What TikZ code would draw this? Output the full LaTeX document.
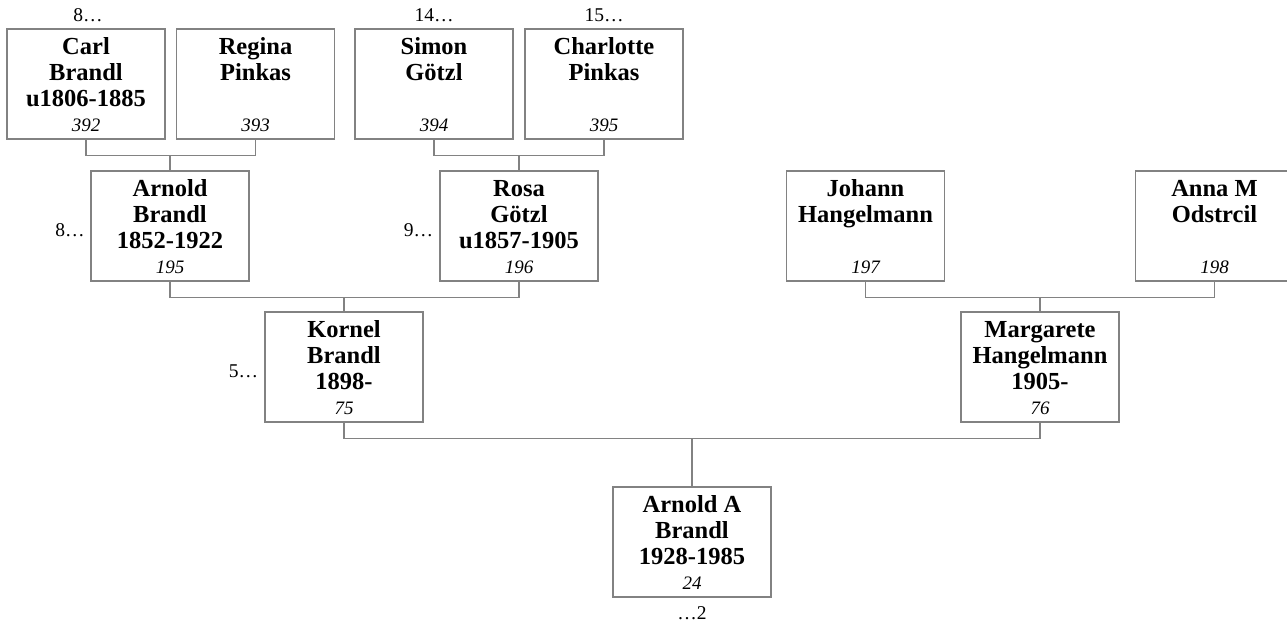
\documentclass[tikz,border=0pt]{standalone}
\usepackage{fontspec}
\setmainfont{Liberation Serif}
\usepackage{xcolor}
\usepackage{tikz}
\usetikzlibrary{positioning}
\definecolor{linegray}{RGB}{130,130,130}
\newcommand{\namefont}{\fontsize{24.5}{26}\selectfont\bfseries}
\newcommand{\numfont}{\fontsize{19}{22}\selectfont\mdseries\itshape}
\newcommand{\famcard}[2]{%
  \begin{minipage}[c][110pt][t]{158pt}\centering
  \namefont\rule{0pt}{25.5pt}#1\par
  \vfill
  \numfont #2\rule[-8pt]{0pt}{8pt}\par
  \end{minipage}}
\tikzstyle{person} = [draw=linegray, line width=1.3pt, rectangle, inner sep=0pt]
\tikzstyle{gen} = [inner sep=0pt, font=\fontsize{19.5}{22}\selectfont]
\tikzstyle{link} = [draw=linegray, line width=1.3pt]

\begin{document}
\begin{tikzpicture}[x=1pt, y=-1pt, node distance=170pt]
  \useasboundingbox (0,0) rectangle (1287,626);

  % great-grandparents
  \node [person] (carl) at (86,84) {\famcard{Carl\\Brandl\\u1806-1885}{392}};
  \node [person, right of=carl, node distance=169.5pt] (regina) {\famcard{Regina\\Pinkas}{393}};
  \node [person] (simon) at (434,84) {\famcard{Simon\\Götzl}{394}};
  \node [person, right of=simon] (charlotte) {\famcard{Charlotte\\Pinkas}{395}};

  % grandparents
  \node [person] (arnold) at (170,226) {\famcard{Arnold\\Brandl\\1852-1922}{195}};
  \node [person] (rosa) at (519,226) {\famcard{Rosa\\Götzl\\u1857-1905}{196}};
  \node [person] (johann) at (865.5,226) {\famcard{Johann\\Hangelmann}{197}};
  \node [person, right of=johann, node distance=349pt] (anna) {\famcard{Anna M\\Odstrcil}{198}};

  % parents
  \node [person] (kornel) at (344,367) {\famcard{Kornel\\Brandl\\1898-}{75}};
  \node [person] (margarete) at (1040,367) {\famcard{Margarete\\Hangelmann\\1905-}{76}};

  \node [person] (arnolda) at (692,542) {\famcard{Arnold A\\Brandl\\1928-1985}{24}};

  % generation numbers
  \node [gen, above=6pt of carl, xshift=2pt] (carlgen) {8\ldots};
  \node [gen, above=6pt of simon] (simongen) {14\ldots};
  \node [gen, above=6pt of charlotte] (charlottegen) {15\ldots};
  \node [gen, left=5.5pt of arnold, yshift=-4pt] (arnoldgen) {8\ldots};
  \node [gen, left=6pt of rosa, yshift=-4pt] (rosagen) {9\ldots};
  \node [gen, left=6pt of kornel, yshift=-4pt] (kornelgen) {5\ldots};
  \node [gen, below=9pt of arnolda] (arnoldagen) {\ldots2};

  % family lines
  \draw [link] (carl.south) -- ++(0,15.5) coordinate (f1) -| (regina.south);
  \draw [link] (arnold.north) -- (arnold.north |- f1);
  \draw [link] (simon.south) -- ++(0,15.5) coordinate (f2) -| (charlotte.south);
  \draw [link] (rosa.north) -- (rosa.north |- f2);
  \draw [link] (arnold.south) -- ++(0,15.5) coordinate (f3) -| (rosa.south);
  \draw [link] (kornel.north) -- (kornel.north |- f3);
  \draw [link] (johann.south) -- ++(0,15.5) coordinate (f4) -| (anna.south);
  \draw [link] (margarete.north) -- (margarete.north |- f4);
  \draw [link] (kornel.south) -- ++(0,15.5) coordinate (f5) -| (margarete.south);
  \draw [link] (arnolda.north) -- (arnolda.north |- f5);
\end{tikzpicture}
\end{document}
